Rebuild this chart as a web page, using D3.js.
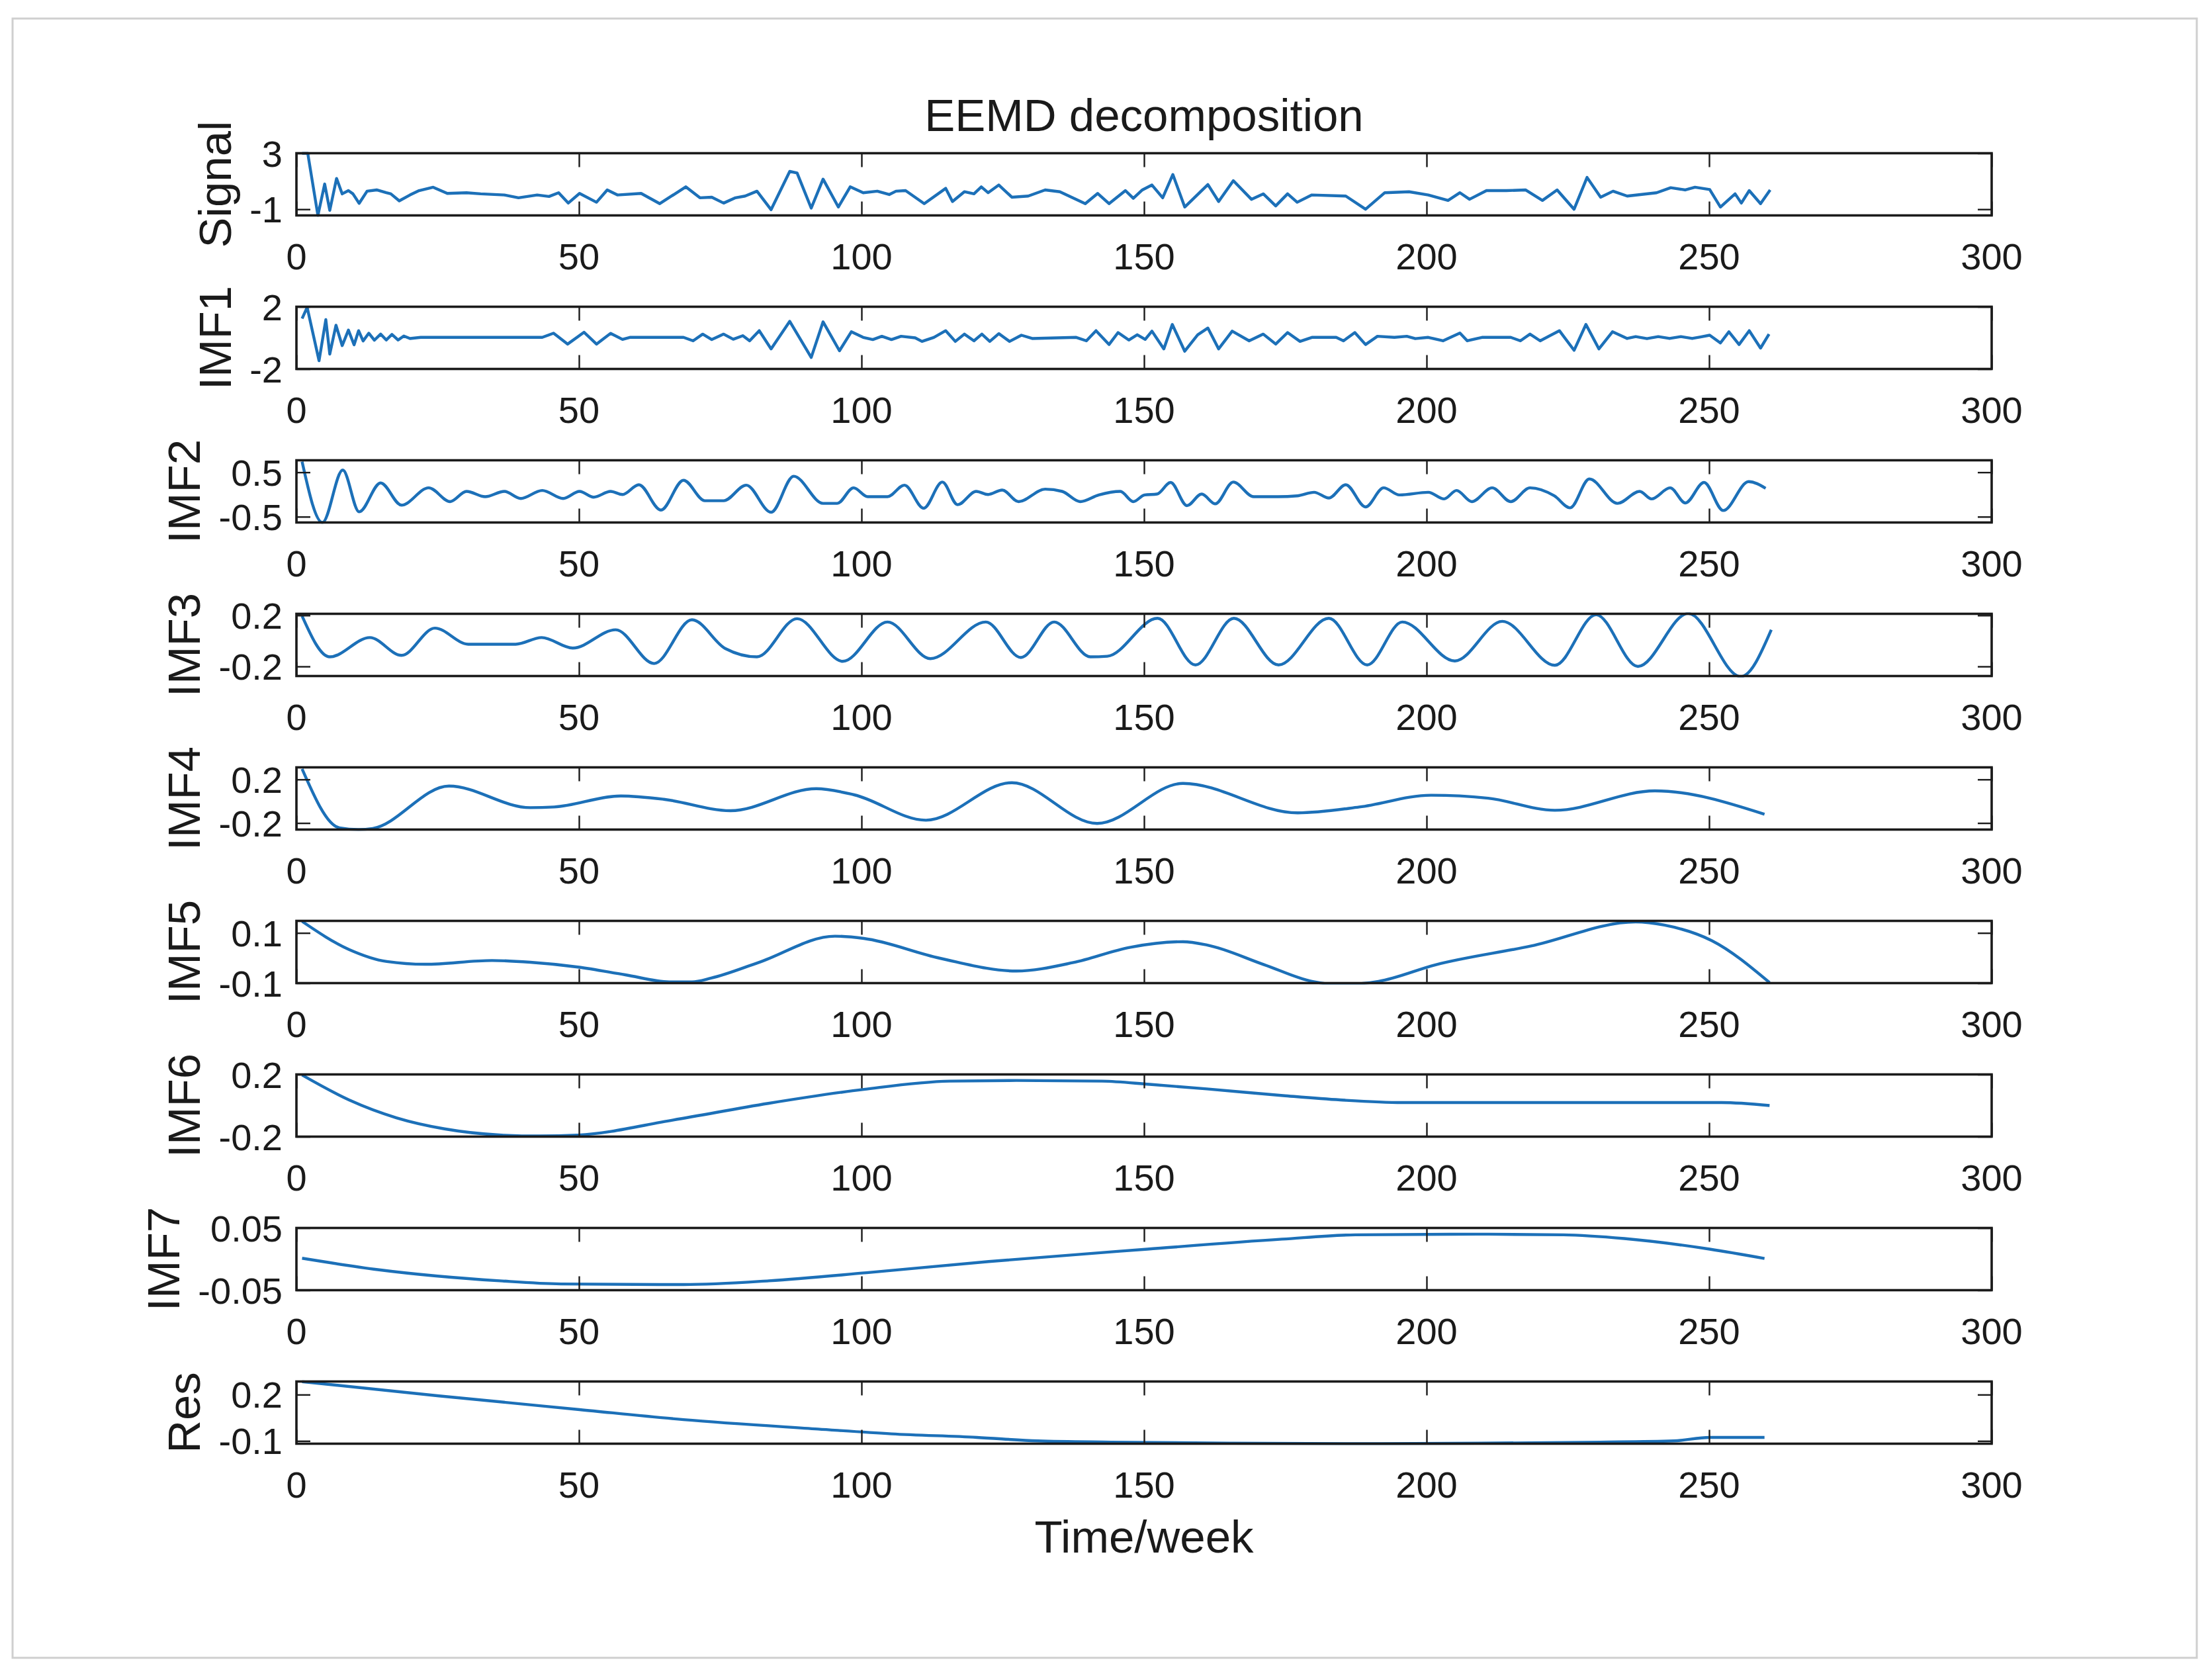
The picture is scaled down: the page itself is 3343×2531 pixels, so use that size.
<!DOCTYPE html>
<html><head><meta charset="utf-8">
<script src="https://cdn.jsdelivr.net/npm/d3@7"></script>
<style>
html,body{margin:0;padding:0;background:#fff;}
svg{display:block;}
text{font-family:"Liberation Sans",Arial,Helvetica,sans-serif;fill:#1a1a1a;}
</style>
</head><body>
<svg id="chart" width="3343" height="2531"></svg>
<script>
// ---------------- DATA ----------------
const titleText = "EEMD decomposition";
const xLabelText = "Time/week";
const panelNames = ["Signal","IMF1","IMF2","IMF3","IMF4","IMF5","IMF6","IMF7","Res"];
const xTickValues = [0,50,100,150,200,250,300];
const xDomain = [0,300];
const yDomains = [[-1.44,3],[-2,2],[-0.63,0.77],[-0.275,0.212],[-0.26,0.311],[-0.1,0.148],[-0.2,0.2],[-0.05,0.05],[-0.118,0.285]];
const yTickValues = [[-1,3],[-2,2],[-0.5,0.5],[-0.2,0.2],[-0.2,0.2],[-0.1,0.1],[-0.2,0.2],[-0.05,0.05],[-0.1,0.2]];
const yTickLabels = [["-1","3"],["-2","2"],["-0.5","0.5"],["-0.2","0.2"],["-0.2","0.2"],["-0.1","0.1"],["-0.2","0.2"],["-0.05","0.05"],["-0.1","0.2"]];

// [week, value]
const signal = [[1,3.0],[2,3.0],[3.8,-1.44],[5.0,0.80],[5.9,-1.08],[7.1,1.2],[8.1,0.1],[9.2,0.33],[10.0,0.1],[11.1,-0.58],[12.5,0.29],[14.2,0.38],[15.9,0.18],[16.7,0.1],[18.2,-0.4],[20.1,0.02],[21.7,0.33],[24.2,0.57],[26.7,0.13],[30.1,0.18],[32.6,0.1],[36.8,0.02],[39.3,-0.18],[42.6,0.02],[44.7,-0.09],[46.4,0.18],[48.1,-0.56],[50.1,0.13],[53.1,-0.5],[55.0,0.38],[56.8,0.02],[61.0,0.13],[64.3,-0.6],[68.9,0.6],[71.4,-0.18],[73.5,-0.14],[75.6,-0.56],[77.7,-0.18],[79.4,-0.06],[81.5,0.29],[84.0,-1.03],[87.3,1.7],[88.6,1.59],[91.1,-0.92],[93.2,1.15],[95.9,-0.84],[98.0,0.6],[100.3,0.18],[102.8,0.29],[104.9,0.05],[106.1,0.29],[107.8,0.33],[111.1,-0.6],[114.9,0.49],[116.1,-0.45],[118.2,0.25],[119.9,0.1],[121.2,0.6],[122.4,0.18],[124.3,0.73],[126.6,-0.14],[129.5,-0.06],[132.5,0.38],[135.1,0.25],[139.6,-0.6],[141.8,0.13],[143.8,-0.6],[146.7,0.33],[148.1,-0.22],[149.7,0.38],[151.4,0.73],[153.3,-0.18],[155.1,1.48],[157.2,-0.84],[161.3,0.76],[163.2,-0.45],[165.8,1.04],[169.0,-0.29],[171.1,0.1],[173.3,-0.76],[175.4,0.1],[177.1,-0.5],[179.7,0.02],[185.7,-0.06],[189.2,-1.0],[192.6,0.18],[196.9,0.25],[200.3,0.02],[203.8,-0.37],[205.9,0.18],[207.6,-0.29],[210.6,0.33],[214.1,0.33],[217.5,0.38],[220.5,-0.37],[223.1,0.38],[226.1,-1.0],[228.4,1.27],[230.8,-0.14],[233.0,0.29],[235.5,-0.06],[240.7,0.18],[243.2,0.54],[245.8,0.38],[247.5,0.57],[250.1,0.41],[252.0,-0.84],[254.6,0.1],[255.7,-0.56],[257.1,0.33],[259.1,-0.6],[260.8,0.38]];

const imf1 = [[1,1.24],[1.9,1.96],[4.0,-1.47],[5.2,1.17],[5.9,-1.04],[7.0,0.81],[8.1,-0.5],[9.2,0.5],[10.2,-0.45],[11.0,0.46],[11.8,-0.2],[12.8,0.3],[13.8,-0.15],[14.9,0.24],[15.9,-0.14],[16.9,0.22],[18.0,-0.14],[19.0,0.12],[20.1,-0.04],[22,0.03],[43.5,0.03],[45.5,0.3],[48.0,-0.4],[50.9,0.36],[53.1,-0.4],[55.6,0.29],[57.7,-0.1],[59,0.03],[68.5,0.03],[70.2,-0.19],[71.9,0.24],[73.5,-0.11],[75.6,0.24],[77.3,-0.09],[79.0,0.14],[80.2,-0.19],[81.9,0.46],[84.0,-0.71],[87.3,1.06],[91.1,-1.26],[93.2,1.03],[96.1,-0.83],[98.2,0.39],[100.3,0.03],[102.0,-0.11],[103.6,0.1],[105.3,-0.11],[107.0,0.1],[109.5,0.0],[110.7,-0.23],[112.8,0.03],[114.9,0.46],[116.6,-0.23],[118.2,0.24],[119.9,-0.19],[121.3,0.24],[122.7,-0.23],[124.3,0.27],[126.2,-0.23],[128.3,0.17],[130.2,-0.04],[138,0.03],[139.8,-0.19],[141.5,0.46],[143.8,-0.43],[145.4,0.34],[147.3,-0.14],[148.8,0.2],[150.2,-0.1],[151.4,0.43],[153.5,-0.71],[155.0,0.86],[157.2,-0.86],[159.5,0.2],[161.3,0.63],[163.2,-0.71],[165.6,0.43],[168.6,-0.19],[171.1,0.24],[173.3,-0.4],[175.4,0.34],[177.6,-0.23],[179.7,0.03],[184,0.03],[185.3,-0.19],[187.3,0.34],[189.2,-0.43],[191.3,0.1],[194.3,0.03],[196.5,0.1],[198,-0.05],[200.3,0.03],[202.9,-0.19],[205.9,0.31],[207.2,-0.19],[209.8,0.03],[214.9,0.03],[216.6,-0.19],[218.3,0.24],[220.1,-0.19],[223.5,0.46],[226.1,-0.8],[228.2,0.86],[230.5,-0.71],[232.9,0.39],[235.5,-0.04],[237,0.08],[239,-0.05],[241,0.08],[243,-0.04],[245,0.08],[247,-0.04],[248.5,0.06],[250.1,0.17],[252.0,-0.33],[253.5,0.39],[255.3,-0.43],[257.1,0.46],[259.1,-0.66],[260.6,0.24]];

const imf2 = [[1,0.74],[4.6,-0.63],[8.2,0.55],[11.1,-0.39],[14.9,0.26],[18.6,-0.24],[23.4,0.15],[27.2,-0.16],[30.1,0.07],[33.4,-0.05],[36.8,0.07],[39.7,-0.09],[43.5,0.09],[47.2,-0.09],[50.1,0.07],[52.6,-0.06],[55.6,0.07],[57.7,0.0],[60.6,0.22],[64.5,-0.35],[68.5,0.32],[72.3,-0.14],[75.6,-0.14],[79.6,0.21],[84.0,-0.4],[88.0,0.41],[93.2,-0.2],[95.7,-0.2],[98.6,0.15],[101.1,-0.05],[104.6,-0.05],[107.6,0.21],[111.0,-0.31],[114.3,0.28],[117.0,-0.23],[120.3,0.07],[122.4,0.0],[124.9,0.1],[127.8,-0.16],[132.5,0.12],[135.5,0.07],[138.7,-0.16],[142.0,-0.01],[145.8,0.07],[148.1,-0.16],[150.1,-0.01],[152.3,0.01],[154.7,0.27],[157.6,-0.25],[160.2,0.01],[162.6,-0.21],[165.8,0.28],[169.4,-0.05],[173.7,-0.05],[177.1,-0.03],[180.1,0.05],[182.7,-0.08],[185.7,0.22],[189.2,-0.28],[192.4,0.15],[195.2,-0.01],[200.3,0.05],[203.1,-0.1],[205.3,0.09],[208.0,-0.16],[211.6,0.15],[214.9,-0.16],[218.3,0.15],[222.6,-0.03],[225.4,-0.3],[228.8,0.35],[233.8,-0.2],[237.7,0.07],[239.8,-0.1],[243.1,0.15],[245.8,-0.19],[249.1,0.27],[252.5,-0.36],[257.0,0.29],[260.0,0.14]];

const imf3 = [[1,0.195],[5.9,-0.125],[13.0,0.026],[18.6,-0.113],[24.5,0.1],[30.4,-0.026],[38.8,-0.026],[43.4,0.026],[48.9,-0.056],[56.5,0.087],[63.3,-0.177],[70.0,0.165],[75.9,-0.06],[81.5,-0.125],[88.6,0.174],[96.7,-0.16],[104.6,0.148],[112.2,-0.139],[122.0,0.148],[128.2,-0.13],[134.1,0.148],[140.5,-0.125],[143.5,-0.12],[152.4,0.177],[159.1,-0.188],[165.9,0.177],[173.8,-0.188],[182.7,0.177],[189.5,-0.188],[195.7,0.148],[205.0,-0.157],[213.4,0.153],[222.7,-0.191],[230.0,0.205],[237.4,-0.2],[246.3,0.215],[255.6,-0.28],[261.0,0.087]];

const imf4 = [[1,0.297],[7.6,-0.244],[11.0,-0.26],[13.5,-0.25],[27.0,0.139],[41.4,-0.059],[45.6,-0.053],[57.4,0.048],[65.0,0.018],[76.8,-0.087],[92.0,0.115],[98.7,0.059],[111.4,-0.174],[126.6,0.17],[141.7,-0.204],[156.9,0.164],[177.2,-0.107],[188.1,-0.053],[200.8,0.055],[210.9,0.028],[222.7,-0.083],[240.4,0.095],[259.8,-0.119]];

const imf5 = [[1,0.146],[9.3,0.034],[16.0,-0.014],[22.8,-0.025],[34.6,-0.01],[41.4,-0.017],[49.8,-0.036],[58.2,-0.067],[66,-0.095],[70,-0.095],[73.4,-0.08],[81.8,-0.018],[95.3,0.087],[100.4,0.078],[113.9,-0.001],[127.4,-0.052],[137.5,-0.018],[147.6,0.043],[156.9,0.065],[161.1,0.052],[171.3,-0.027],[179.7,-0.093],[184.7,-0.106],[191.5,-0.093],[201.6,-0.027],[218.5,0.048],[237.0,0.144],[242.1,0.131],[250.5,0.069],[260.7,-0.098]];

const imf6 = [[1,0.196],[9.3,0.036],[17.7,-0.079],[26.2,-0.15],[36.3,-0.19],[43.0,-0.196],[49.8,-0.19],[66.7,-0.093],[83.5,0.014],[100.4,0.104],[115.6,0.157],[127.4,0.161],[142.6,0.157],[151.0,0.136],[161.1,0.107],[174.6,0.064],[184.7,0.036],[195.7,0.019],[218.5,0.019],[252.2,0.019],[260.7,0.0]];

const imf7 = [[1,0.0013],[14.4,-0.017],[36.0,-0.035],[46.8,-0.04],[68.5,-0.041],[83.6,-0.035],[100.9,-0.022],[122.5,-0.004],[150.6,0.016],[174.4,0.032],[187.4,0.039],[209.1,0.04],[224.2,0.039],[235.0,0.033],[250.1,0.016],[259.8,0.001]];

const residue = [[1,0.284],[25.2,0.192],[50.1,0.103],[68.5,0.038],[92.3,-0.023],[105.3,-0.054],[120.4,-0.077],[131.2,-0.1],[144.2,-0.108],[165.8,-0.115],[187.4,-0.118],[209.1,-0.115],[230.7,-0.108],[243.7,-0.1],[250.1,-0.077],[259.8,-0.077]];

const seriesList = [signal, imf1, imf2, imf3, imf4, imf5, imf6, imf7, residue];
const curveKinds = ["linear", "linear", "smooth", "smooth", "smooth", "smooth", "smooth", "smooth", "smooth"];

// ---------------- LAYOUT ----------------
const W = 3343, H = 2531;
const plotLeft = 448, plotRight = 3010;
const panelTop0 = 231.5, panelStep = 232, panelH = 94;
const tickLen = 21;
const tickFont = 56, labelFont = 69, titleFont = 69;
const lineColor = "#1c70b8";

const svg = d3.select("#chart");
svg.append("rect").attr("x",0).attr("y",0).attr("width",W).attr("height",H).attr("fill","#fff");
svg.append("rect").attr("x",19).attr("y",28).attr("width",3301).attr("height",2477)
  .attr("fill","#fff").attr("stroke","#cfcfcf").attr("stroke-width",3);

const x = d3.scaleLinear().domain(xDomain).range([plotLeft, plotRight]);
const defs = svg.append("defs");

panelNames.forEach((name, i) => {
  const top = panelTop0 + i * panelStep;
  const bottom = top + panelH;
  const y = d3.scaleLinear().domain(yDomains[i]).range([bottom, top]);
  const g = svg.append("g");

  defs.append("clipPath").attr("id", "clip" + i).append("rect")
    .attr("x", plotLeft).attr("y", top - 2).attr("width", plotRight - plotLeft).attr("height", panelH + 4);

  const line = d3.line().x(d => x(d[0])).y(d => y(d[1]))
    .curve(curveKinds[i] === "smooth" ? d3.curveMonotoneX : d3.curveLinear);
  g.append("path").datum(seriesList[i]).attr("d", line)
    .attr("fill","none").attr("stroke",lineColor).attr("stroke-width",4.4)
    .attr("stroke-linejoin","round").attr("clip-path","url(#clip" + i + ")");

  const xb = g.append("g").attr("transform", `translate(0,${bottom})`)
    .call(d3.axisBottom(x).tickValues(xTickValues).tickSize(-tickLen).tickFormat(""));
  const xt = g.append("g").attr("transform", `translate(0,${top})`)
    .call(d3.axisTop(x).tickValues(xTickValues).tickSize(-tickLen).tickFormat(""));
  const yl = g.append("g").attr("transform", `translate(${plotLeft},0)`)
    .call(d3.axisLeft(y).tickValues(yTickValues[i]).tickSize(-tickLen).tickFormat(""));
  const yr = g.append("g").attr("transform", `translate(${plotRight},0)`)
    .call(d3.axisRight(y).tickValues(yTickValues[i]).tickSize(-tickLen).tickFormat(""));
  [xb, xt, yl, yr].forEach(a => {
    a.select(".domain").remove();
    a.selectAll(".tick line").attr("stroke","#1a1a1a").attr("stroke-width",2.4);
  });

  g.append("rect").attr("x",plotLeft).attr("y",top).attr("width",plotRight-plotLeft).attr("height",panelH)
    .attr("fill","none").attr("stroke","#1a1a1a").attr("stroke-width",3.6);

  g.selectAll(".xtl").data(xTickValues).enter().append("text")
    .attr("x", d => x(d)).attr("y", bottom + 81)
    .attr("text-anchor","middle").attr("font-size",tickFont).text(d => d);

  const ylab = g.selectAll(".ytl").data(yTickValues[i]).enter().append("text")
    .attr("x", plotLeft - 21).attr("y", d => y(d)).attr("dy","0.36em")
    .attr("text-anchor","end").attr("font-size",tickFont).text((d, k) => yTickLabels[i][k]);
  let maxW = 0;
  ylab.each(function(){ maxW = Math.max(maxW, this.getComputedTextLength()); });

  const cx = plotLeft - 21 - maxW - 53;
  g.append("text").attr("transform", `translate(${cx},${(top+bottom)/2}) rotate(-90)`)
    .attr("dy","0.36em").attr("text-anchor","middle").attr("font-size",labelFont).text(name);
});

svg.append("text").attr("x",(plotLeft+plotRight)/2).attr("y",198)
  .attr("text-anchor","middle").attr("font-size",titleFont).text(titleText);
svg.append("text").attr("x",(plotLeft+plotRight)/2).attr("y",2346)
  .attr("text-anchor","middle").attr("font-size",labelFont).text(xLabelText);
</script>
</body></html>
